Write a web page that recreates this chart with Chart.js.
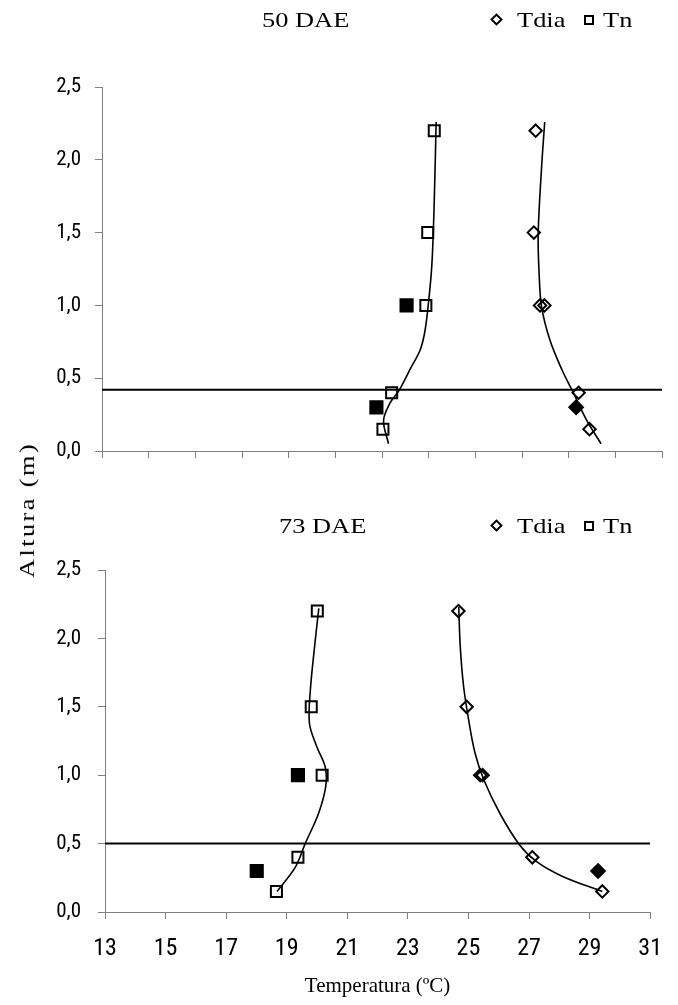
<!DOCTYPE html>
<html>
<head>
<meta charset="utf-8">
<title>Perfil de temperatura</title>
<script src="https://cdn.jsdelivr.net/npm/chart.js@4.4.0/dist/chart.umd.min.js"></script>
<style>
  body { margin: 0; background: #fff; }
  #page { position: relative; width: 678px; height: 1005px; overflow: hidden; }
  .panel { position: absolute; left: 0; }
  .txt {
    position: absolute;
    font-family: "Liberation Serif", "Times New Roman", serif;
    font-size: 22px;
    line-height: 1;
    color: #000;
    white-space: nowrap;
    transform-origin: 0 50%;
    transform: scaleX(1.2);
  }
  .mk { position: absolute; box-sizing: border-box; border: 2px solid #000; }
  .dia { width: 9px; height: 9px; transform: rotate(45deg); }
  .sq { width: 10px; height: 10px; }
  #ylab {
    position: absolute;
    left: 27px; top: 510px;
    font-family: "Liberation Serif", "Times New Roman", serif;
    font-size: 22px;
    letter-spacing: 2px;
    line-height: 1;
    white-space: nowrap;
    transform: translate(-50%, -50%) rotate(-90deg) scaleX(1.2);
  }
</style>
</head>
<body>
<div id="page">
  <div class="panel" style="top:0"><canvas id="chart50" width="678" height="490"></canvas></div>
  <div class="panel" style="top:490px"><canvas id="chart73" width="678" height="515"></canvas></div>

  <div class="txt" style="left:262px; top:9px">50 DAE</div>
  <div class="mk dia" style="left:492px; top:15px"></div>
  <div class="txt" style="left:517px; top:9px">Tdia</div>
  <div class="mk sq" style="left:584px; top:15px"></div>
  <div class="txt" style="left:603px; top:9px">Tn</div>

  <div class="txt" style="left:279px; top:515px">73 DAE</div>
  <div class="mk dia" style="left:492px; top:521px"></div>
  <div class="txt" style="left:517px; top:515px">Tdia</div>
  <div class="mk sq" style="left:584px; top:521px"></div>
  <div class="txt" style="left:603px; top:515px">Tn</div>

  <div id="ylab">Altura (m)</div>
</div>

<script>
// measurement heights (m)
const alturas = [2.2, 1.5, 1.0, 0.4, 0.15];
const alturasDia = [2.2, 1.5, 1.0, 1.0, 0.4, 0.15];
const alturasRef = [1.0, 0.3];

// 50 DAE temperatures (ºC)
const tn50 = [23.68, 23.47, 23.41, 22.31, 22.03];
const tdia50 = [26.94, 26.88, 27.08, 27.22, 28.32, 28.67];
const tnRef50 = [22.79, 21.82];
const tdiaRef50 = [28.24];
const dossel50 = 0.42;

// 73 DAE temperatures (ºC)
const tn73 = [20.01, 19.81, 20.17, 19.37, 18.66];
const tdia73 = [24.67, 24.94, 25.39, 25.47, 27.11, 29.42];
const tnRef73 = [19.37, 18.01];
const tdiaRef73 = [29.28];
const dossel73 = 0.5;

// fitted profiles (temperature, height)
const curvaTn50X = [22.21, 22.05, 22.26, 22.53, 22.71, 22.90, 23.22, 23.36, 23.46, 23.60, 23.68, 23.74];
const curvaTn50Y = [0.05, 0.21, 0.33, 0.41, 0.48, 0.56, 0.69, 0.80, 0.95, 1.27, 1.72, 2.26];
const curvaDia50X = [27.23, 27.13, 27.02, 27.05, 27.13, 27.40, 27.78, 28.15, 28.58, 29.04];
const curvaDia50Y = [2.26, 1.95, 1.49, 1.22, 0.99, 0.76, 0.56, 0.40, 0.21, 0.05];
const curvaTn73X = [20.06, 19.92, 19.78, 19.75, 19.99, 20.27, 20.29, 20.05, 19.61, 19.29, 18.68];
const curvaTn73Y = [2.22, 1.94, 1.62, 1.38, 1.21, 1.06, 0.92, 0.72, 0.50, 0.33, 0.15];
const curvaDia73X = [24.68, 24.73, 24.84, 25.01, 25.22, 25.50, 26.04, 26.69, 27.24, 28.11, 29.42];
const curvaDia73Y = [2.23, 1.94, 1.65, 1.40, 1.16, 0.97, 0.72, 0.49, 0.37, 0.26, 0.15];

const tempMin = 13;
const tempMax = 31;
const tempTicks = [13, 15, 17, 19, 21, 23, 25, 27, 29, 31];

const tickFont = "'Liberation Sans Narrow', 'Arial Narrow', 'Roboto Condensed', Roboto, sans-serif";
const serifFont = "'Liberation Serif', 'Times New Roman', serif";
const axisGray = "#7f7f7f";

function pts(xs, ys) {
    return xs.map((x, i) => ({ x: x, y: ys[i] }));
}

function markers(xs, ys, style, radius, filled) {
    return {
        data: pts(xs, ys),
        showLine: false,
        pointStyle: style,
        pointRadius: radius,
        pointHoverRadius: radius,
        pointBorderWidth: 2,
        pointBorderColor: "#000",
        pointBackgroundColor: filled ? "#000" : "rgba(0,0,0,0)"
    };
}

function curve(xs, ys) {
    return {
        data: pts(xs, ys),
        showLine: true,
        borderColor: "#000",
        borderWidth: 1.6,
        tension: 0.35,
        pointRadius: 0,
        pointHoverRadius: 0
    };
}

function buildChart(id, cfg) {
    const datasets = [
        curve(cfg.curveTnX, cfg.curveTnY),
        curve(cfg.curveDiaX, cfg.curveDiaY),
        {
            data: [{ x: tempMin, y: cfg.dossel }, { x: tempMax, y: cfg.dossel }],
            showLine: true,
            borderColor: "#000",
            borderWidth: 2,
            pointRadius: 0,
            pointHoverRadius: 0
        },
        markers(cfg.tn, alturas, "rect", 7.8, false),
        markers(cfg.tdia, alturasDia, "rectRot", 6.2, false),
        markers(cfg.tnRef, alturasRef, "rect", 8.6, true),
        markers(cfg.tdiaRef, [0.3], "rectRot", 6.8, true)
    ];

    new Chart(document.getElementById(id), {
        type: "scatter",
        data: { datasets: datasets },
        options: {
            responsive: false,
            animation: false,
            events: [],
            layout: { padding: { top: cfg.padTop, right: cfg.padRight, left: 0, bottom: 0 } },
            plugins: {
                legend: { display: false },
                tooltip: { enabled: false }
            },
            scales: {
                x: {
                    type: "linear",
                    min: tempMin,
                    max: tempMax,
                    afterFit: scale => { scale.height = cfg.xHeight; },
                    afterBuildTicks: scale => {
                        if (cfg.showXLabels) {
                            scale.ticks = tempTicks.map(v => ({ value: v }));
                        }
                    },
                    ticks: {
                        stepSize: cfg.xStep,
                        display: cfg.showXLabels,
                        color: "#000",
                        padding: 16,
                        maxRotation: 0,
                        font: { family: tickFont, size: 24 }
                    },
                    grid: {
                        drawOnChartArea: false,
                        drawTicks: true,
                        tickLength: 7,
                        color: axisGray
                    },
                    border: { display: true, color: axisGray, width: 1 },
                    title: {
                        display: cfg.showXLabels,
                        text: "Temperatura (ºC)",
                        color: "#000",
                        padding: { top: 2, bottom: 6 },
                        font: { family: serifFont, size: 21 }
                    }
                },
                y: {
                    type: "linear",
                    min: 0,
                    max: 2.5,
                    afterFit: scale => { scale.width = cfg.yWidth; },
                    ticks: {
                        stepSize: 0.5,
                        color: "#000",
                        padding: cfg.yPad,
                        font: { family: tickFont, size: 21 },
                        callback: v => v.toFixed(1).replace(".", ",")
                    },
                    grid: {
                        drawOnChartArea: false,
                        drawTicks: true,
                        tickLength: 7,
                        color: axisGray
                    },
                    border: { display: true, color: axisGray, width: 1 }
                }
            }
        }
    });
}

buildChart("chart50", {
    tn: tn50, tdia: tdia50, tnRef: tnRef50, tdiaRef: tdiaRef50, dossel: dossel50,
    curveTnX: curvaTn50X, curveTnY: curvaTn50Y, curveDiaX: curvaDia50X, curveDiaY: curvaDia50Y,
    padTop: 87, padRight: 16, yWidth: 102, xHeight: 39, xStep: 1.5, showXLabels: false, yPad: 14
});

buildChart("chart73", {
    tn: tn73, tdia: tdia73, tnRef: tnRef73, tdiaRef: tdiaRef73, dossel: dossel73,
    curveTnX: curvaTn73X, curveTnY: curvaTn73Y, curveDiaX: curvaDia73X, curveDiaY: curvaDia73Y,
    padTop: 80, padRight: 23, yWidth: 105, xHeight: 93, xStep: 2, showXLabels: true, yPad: 17
});
</script>
</body>
</html>
